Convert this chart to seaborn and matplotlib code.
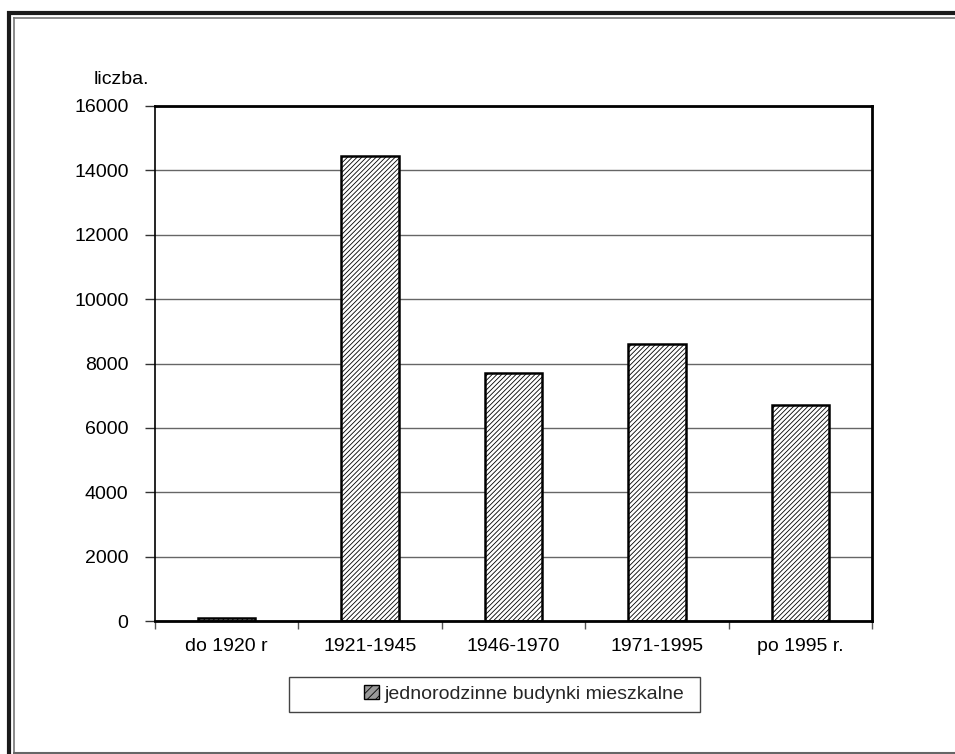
import matplotlib
matplotlib.use("Agg")
import matplotlib.pyplot as plt
import seaborn as sns
import pandas as pd
from matplotlib.lines import Line2D
from matplotlib.patches import Rectangle, Patch

categories = ["do 1920 r", "1921-1945", "1946-1970", "1971-1995", "po 1995 r."]
values = [100, 14450, 7700, 8600, 6700]
series_name = "jednorodzinne budynki mieszkalne"
y_label = "liczba."
y_ticks = [0, 2000, 4000, 6000, 8000, 10000, 12000, 14000, 16000]

sns.set_theme(style="white")
plt.rcParams['font.family'] = ['Liberation Sans', 'DejaVu Sans']
plt.rcParams['hatch.linewidth'] = 0.6
plt.rcParams['hatch.color'] = '#222222'

W, H = 955, 754
fig = plt.figure(figsize=(W / 100, H / 100), dpi=100)
fig.patch.set_facecolor('white')

L, R, T, B = 155, 872, 106, 621
ax = fig.add_axes([L / W, 1 - B / H, (R - L) / W, (B - T) / H])

df = pd.DataFrame({"cat": categories, "val": values})
sns.barplot(data=df, x="cat", y="val", color="white", edgecolor="black",
            linewidth=1.8, width=0.4, ax=ax, saturation=1)
for p in ax.patches:
    p.set_hatch('/' * 7)

ax.set_ylim(0, 16000)
ax.set_xlim(-0.5, len(categories) - 0.5)
ax.set_yticks(y_ticks)
ax.set_yticklabels([str(t) for t in y_ticks], fontsize=14)
ax.set_xticks(range(len(categories)))
ax.set_xticklabels(categories, fontsize=14)
ax.set_xticks([i - 0.5 for i in range(len(categories) + 1)], minor=True)
ax.tick_params(axis='x', which='major', length=0, pad=12, colors='black')
ax.tick_params(axis='x', which='minor', length=6, width=1, color='#555555', direction='out', bottom=True)
ax.tick_params(axis='y', which='major', length=7, width=1, color='#333333', direction='out', left=True, pad=12, labelcolor='black')
ax.set_xlabel("")
ax.set_ylabel("")

ax.yaxis.grid(True, color='#666666', linewidth=1)
ax.set_axisbelow(True)
ax.spines['left'].set_color('black'); ax.spines['left'].set_linewidth(1.2)
for s in ['top', 'right', 'bottom']:
    ax.spines[s].set_color('black'); ax.spines[s].set_linewidth(2)
for s in ax.spines.values():
    s.set_visible(True)

fig.text(121 / W, 1 - 80 / H, y_label, fontsize=14, ha='center', va='center', color='black')

# legend box
lx0, lx1, ly0, ly1 = 289, 700, 677, 712
fig.add_artist(Rectangle((lx0 / W, 1 - ly1 / H), (lx1 - lx0) / W, (ly1 - ly0) / H,
                         transform=fig.transFigure, facecolor='white', edgecolor='#444444', linewidth=1))
handle = Patch(facecolor='#999999', edgecolor='black', hatch='////', linewidth=1, label=series_name)
fig.legend(handles=[handle], loc='center left', bbox_to_anchor=(364 / W, 1 - 694 / H),
           frameon=False, fontsize=14, handlelength=0.75, handleheight=0.75, handletextpad=0.3,
           borderpad=0, borderaxespad=0)

# outer frame (double border)
def hline(y, x0, x1, lw, c):
    fig.add_artist(Line2D([x0 / W, x1 / W], [1 - y / H, 1 - y / H], transform=fig.transFigure,
                          lw=lw, color=c, solid_capstyle='butt'))
def vline(x, y0, y1, lw, c):
    fig.add_artist(Line2D([x / W, x / W], [1 - y0 / H, 1 - y1 / H], transform=fig.transFigure,
                          lw=lw, color=c, solid_capstyle='butt'))

hline(12.5, 7, W, 3.0, '#1a1a1a')
vline(8.5, 11, H, 3.0, '#1a1a1a')
hline(17.5, 13, W, 1.2, '#777777')
vline(13.5, 17, H, 1.2, '#777777')
hline(752.5, 13, W, 1.5, '#666666')

fig.savefig("out.png", dpi=100, facecolor='white')
